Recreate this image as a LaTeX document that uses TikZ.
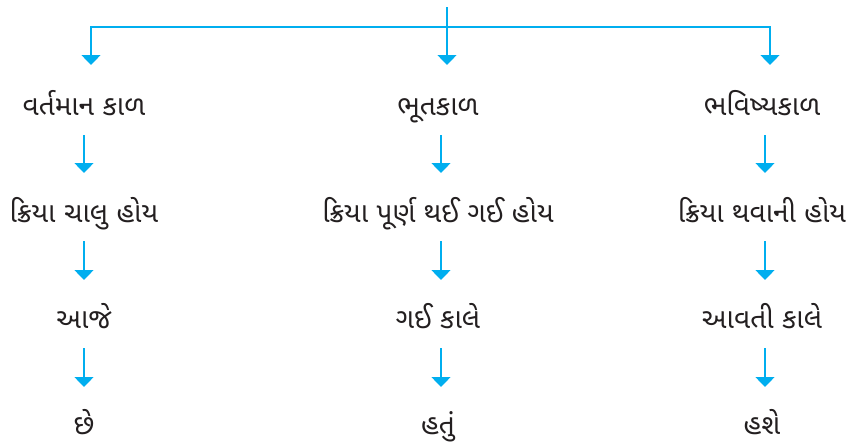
\documentclass[tikz,border=0pt]{standalone}
\usepackage{fontspec}
\newfontfamily\guj[Script=Gujarati]{Noto Sans Gujarati UI}
\usetikzlibrary{arrows.meta}
\definecolor{flow}{HTML}{00AEEF}
\definecolor{ink}{HTML}{231F20}
\tikzset{
  lbl/.style={font=\guj\fontsize{28}{32}\selectfont, text=ink, inner sep=0pt, anchor=base},
  arr/.style={draw=flow, line width=1.4pt, -{Triangle[width=19pt,length=10pt]}},
}
\begin{document}
\begin{tikzpicture}[x=1pt,y=-1pt]
\useasboundingbox (0,0) rectangle (852,445);
% nodes
\node[lbl] (p1) at (84,115) {વર્તમાન કાળ};
\node[lbl] (p2) at (438,115) {ભૂતકાળ};
\node[lbl] (p3) at (762,115) {ભવિષ્યકાળ};
\node[lbl] (q1) at (84,222) {ક્રિયા ચાલુ હોય};
\node[lbl] (q2) at (438,222) {ક્રિયા પૂર્ણ થઈ ગઈ હોય};
\node[lbl] (q3) at (762,222) {ક્રિયા થવાની હોય};
\node[lbl] (r1) at (84,328) {આજે};
\node[lbl] (r2) at (438,328) {ગઈ કાલે};
\node[lbl] (r3) at (762,328) {આવતી કાલે};
\node[lbl] (s1) at (84,434) {છે};
\node[lbl] (s2) at (438,434) {હતું};
\node[lbl] (s3) at (762,434) {હશે};
% top tree
\coordinate (top) at (447,7);
\coordinate (bar) at (447,27);
\coordinate (t1) at (91,65);
\coordinate (t2) at (447,65);
\coordinate (t3) at (770,65);
\draw[arr] (bar -| t3) -| (t1);
\draw[arr] (bar -| t1) -| (t3);
\draw[arr] (top) -- (t2);
% column arrows: from below one label to above the next
\foreach \c/\dx in {1/0,2/3,3/3}{
  \draw[arr] ([shift={(\dx,20)}]p\c.base) -- ([shift={(\dx,-49)}]q\c.base);
  \draw[arr] ([shift={(\dx,19)}]q\c.base) -- ([shift={(\dx,-48)}]r\c.base);
  \draw[arr] ([shift={(\dx,20)}]r\c.base) -- ([shift={(\dx,-47)}]s\c.base);
}
\end{tikzpicture}
\end{document}
